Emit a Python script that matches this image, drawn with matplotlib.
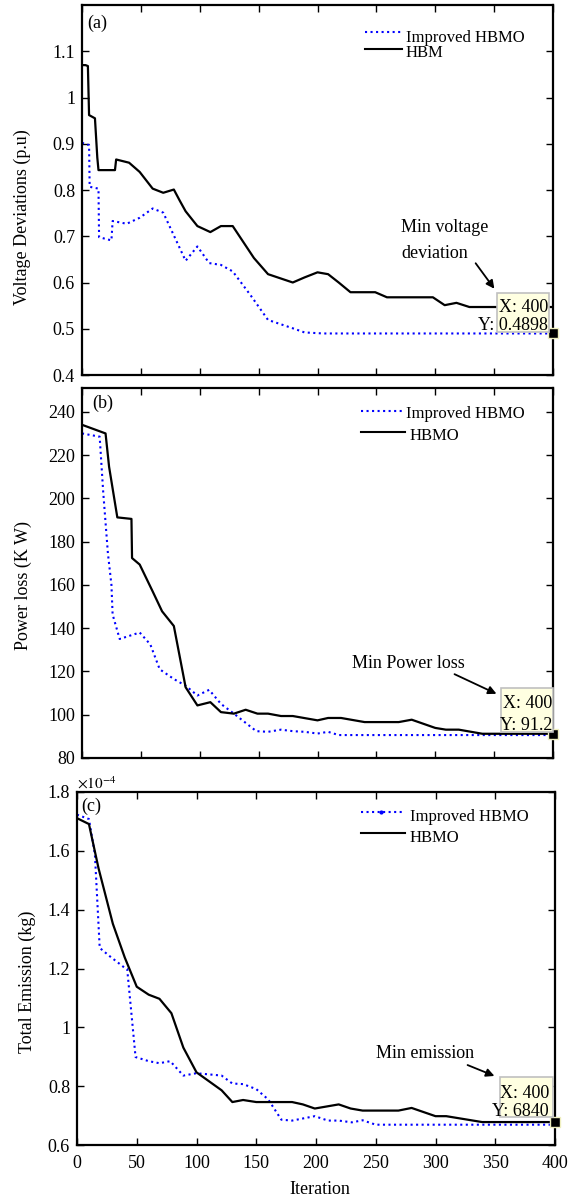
import matplotlib
matplotlib.use("Agg")
import matplotlib.pyplot as plt
from matplotlib.lines import Line2D
from matplotlib.patches import Rectangle, FancyArrowPatch

plt.rcParams['font.family'] = ['Liberation Serif', 'DejaVu Serif']
plt.rcParams['mathtext.fontset'] = 'stix'

# ---------------- data ----------------
# (a) voltage deviation (p.u)
va_hbm_x = [0, 3, 5, 6, 11, 13, 14, 28, 29, 40, 49, 60, 69, 78, 83, 88, 98, 109, 118, 128,
            146, 158, 179, 189, 200, 209, 218, 228, 249, 259, 298, 308, 318, 329, 349, 400]
va_hbm_y = [1.070, 1.070, 1.068, 0.962, 0.955, 0.870, 0.843, 0.843, 0.866, 0.859, 0.839, 0.803,
            0.794, 0.801, 0.777, 0.754, 0.722, 0.709, 0.722, 0.722, 0.653, 0.618, 0.600, 0.611,
            0.622, 0.618, 0.600, 0.579, 0.579, 0.568, 0.568, 0.551, 0.556, 0.547, 0.547, 0.547]
va_imp_x = [0, 6, 6.5, 10, 14, 14.5, 25, 26, 38, 49, 60, 69, 88, 98, 108, 118, 128, 143, 158,
            179, 189, 205, 400]
va_imp_y = [0.902, 0.897, 0.807, 0.805, 0.803, 0.698, 0.691, 0.733, 0.727, 0.740, 0.760, 0.751,
            0.647, 0.678, 0.642, 0.638, 0.624, 0.573, 0.519, 0.501, 0.492, 0.4898, 0.4898]

# (b) power loss (KW)
pb_hbmo_x = [0, 20, 23, 30, 42, 42.5, 49, 60, 68, 78, 88, 98, 109, 118, 129, 139, 149, 158,
             169, 179, 200, 209, 220, 240, 269, 280, 300, 309, 320, 340, 400]
pb_hbmo_y = [234, 230, 214.6, 191.2, 190.5, 172.4, 169.4, 157, 147.8, 141, 112.7, 104.3, 105.8,
             101.2, 100.5, 102.3, 100.5, 100.5, 99.4, 99.4, 97.4, 98.5, 98.5, 96.6, 96.6, 97.7,
             93.9, 93.1, 93.1, 91.2, 91.2]
pb_imp_x = [0, 15, 18, 22, 25, 26, 32, 49, 58, 66, 78, 88, 98, 108, 118, 129, 148, 158, 169,
            179, 189, 200, 209, 218, 400]
pb_imp_y = [230, 228.5, 203, 174.6, 160, 146.3, 135, 138, 132.5, 121, 116.5, 113.4, 108.9,
            111.5, 105, 100.5, 92.4, 92.1, 93.1, 92.4, 92.1, 91.3, 92.1, 90.6, 90.6]

# (c) total emission (kg, in units of 1e-4)
ec_hbmo_x = [0, 10, 18, 30, 40, 50, 60, 69, 79, 89, 100, 110, 121, 130, 139, 150, 180, 189,
             199, 219, 229, 239, 269, 280, 300, 309, 339, 400]
ec_hbmo_y = [1.711, 1.691, 1.541, 1.352, 1.237, 1.138, 1.111, 1.097, 1.048, 0.931, 0.847,
             0.818, 0.786, 0.746, 0.753, 0.746, 0.746, 0.738, 0.724, 0.738, 0.724, 0.717,
             0.717, 0.726, 0.698, 0.698, 0.678, 0.678]
ec_imp_x = [0, 10, 15, 19, 27, 40, 42, 49, 60, 69, 78, 89, 100, 121, 130, 139, 150, 160, 171,
            180, 199, 210, 219, 230, 239, 250, 400]
ec_imp_y = [1.723, 1.708, 1.587, 1.270, 1.243, 1.202, 1.198, 0.899, 0.885, 0.878, 0.885,
            0.836, 0.844, 0.836, 0.809, 0.807, 0.790, 0.755, 0.686, 0.683, 0.698, 0.683,
            0.683, 0.677, 0.684, 0.669, 0.669]

x_ticks = [0, 50, 100, 150, 200, 250, 300, 350, 400]
a_ticks = [0.4, 0.5, 0.6, 0.7, 0.8, 0.9, 1.0, 1.1]
a_ticklabels = ['0.4', '0.5', '0.6', '0.7', '0.8', '0.9', '1', '1.1']
b_ticks = [80, 100, 120, 140, 160, 180, 200, 220, 240]
c_ticks = [0.6, 0.8, 1.0, 1.2, 1.4, 1.6, 1.8]
c_ticklabels = ['0.6', '0.8', '1', '1.2', '1.4', '1.6', '1.8']

# ---------------- figure ----------------
W, H = 569, 1198
fig = plt.figure(figsize=(W / 100, H / 100), dpi=100)


def fx(x):
    return x / W


def fy(y):
    return 1 - y / H


def axes_px(l, t, r, b):
    return fig.add_axes([fx(l), fy(b), (r - l) / W, (b - t) / H])


ax_a = axes_px(82, 5, 553, 375)
ax_b = axes_px(82, 388, 553, 758)
ax_c = axes_px(77, 792, 555, 1145)

FS = 13
BLUE = '#0000ff'

for ax in (ax_a, ax_b, ax_c):
    ax.set_xlim(0, 400)
    ax.set_xticks(x_ticks)
    ax.tick_params(direction='in', length=5, width=1.0, top=True, right=True,
                   labelsize=FS, pad=5)
    for s in ax.spines.values():
        s.set_linewidth(1.6)

ax_a.plot(va_imp_x, va_imp_y, ls=':', color=BLUE, lw=1.5)
ax_a.plot(va_hbm_x, va_hbm_y, ls='-', color='k', lw=1.6)
ax_a.set_ylim(0.4, 1.2)
ax_a.set_yticks(a_ticks)
ax_a.set_yticklabels(a_ticklabels)
ax_a.set_xticklabels([])

ax_b.plot(pb_imp_x, pb_imp_y, ls=':', color=BLUE, lw=1.5)
ax_b.plot(pb_hbmo_x, pb_hbmo_y, ls='-', color='k', lw=1.6)
ax_b.set_ylim(80, 251)
ax_b.set_yticks(b_ticks)
ax_b.set_xticklabels([])

ax_c.plot(ec_imp_x, ec_imp_y, ls=':', color=BLUE, lw=1.5)
ax_c.plot(ec_hbmo_x, ec_hbmo_y, ls='-', color='k', lw=1.6)
ax_c.set_ylim(0.6, 1.8)
ax_c.set_yticks(c_ticks)
ax_c.set_yticklabels(c_ticklabels)
ax_c.tick_params(axis='x', pad=7)

# data tip markers
ax_a.plot([va_imp_x[-1]], [va_imp_y[-1]], 's', ms=7, mfc='k', mec='#f0f0c0', mew=1, clip_on=False, zorder=5)
ax_b.plot([pb_hbmo_x[-1]], [pb_hbmo_y[-1]], 's', ms=7, mfc='k', mec='#f0f0c0', mew=1, clip_on=False, zorder=5)
ax_c.plot([ec_hbmo_x[-1]], [ec_hbmo_y[-1]], 's', ms=7, mfc='k', mec='#f0f0c0', mew=1, clip_on=False, zorder=5)

# y labels
fig.text(fx(22), fy(217), 'Voltage Deviations (p.u)', rotation=90, ha='center', va='center', fontsize=FS)
fig.text(fx(23), fy(585), 'Power loss (K W)', rotation=90, ha='center', va='center', fontsize=FS)
fig.text(fx(27), fy(982), 'Total Emission (kg)', rotation=90, ha='center', va='center', fontsize=FS)
fig.text(fx(320), fy(1190), 'Iteration', ha='center', va='center', fontsize=FS)

# panel labels
fig.text(fx(87), fy(23), '(a)', ha='left', va='center', fontsize=FS)
fig.text(fx(92), fy(403), '(b)', ha='left', va='center', fontsize=FS)
fig.text(fx(81), fy(806), '(c)', ha='left', va='center', fontsize=FS)
fig.text(fx(77), fy(783), r'$\times10^{-4}$', ha='left', va='center', fontsize=11)


# legends (manual, to mimic original placement)
def legend_line(x1, x2, y, **kw):
    fig.add_artist(Line2D([fx(x1), fx(x2)], [fy(y), fy(y)], transform=fig.transFigure, **kw))


LFS = 12
legend_line(365, 402, 32, color=BLUE, ls=':', lw=1.5)
legend_line(365, 402, 49, color='k', ls='-', lw=1.5)
fig.text(fx(406), fy(38), 'Improved HBMO', ha='left', va='center', fontsize=LFS)
fig.text(fx(406), fy(53), 'HBM', ha='left', va='center', fontsize=LFS)

legend_line(361, 405, 411, color=BLUE, ls=':', lw=1.5)
legend_line(361, 405, 432, color='k', ls='-', lw=1.5)
fig.text(fx(406), fy(414), 'Improved HBMO', ha='left', va='center', fontsize=LFS)
fig.text(fx(410), fy(436), 'HBMO', ha='left', va='center', fontsize=LFS)

legend_line(361, 405, 812, color=BLUE, ls=':', lw=1.5)
fig.add_artist(Line2D([fx(381)], [fy(812)], transform=fig.transFigure, marker='.', ms=4, color=BLUE))
legend_line(361, 405, 833, color='k', ls='-', lw=1.5)
fig.text(fx(410), fy(817), 'Improved HBMO', ha='left', va='center', fontsize=LFS)
fig.text(fx(410), fy(838), 'HBMO', ha='left', va='center', fontsize=LFS)


# data tips
def datatip(l, t, r, b, xt, yx, yy, ytxt, xr):
    fig.add_artist(Rectangle((fx(l), fy(b)), (r - l) / W, (b - t) / H, transform=fig.transFigure,
                             facecolor='#ffffe1', edgecolor='#c0c0c0', lw=1.2, zorder=3))
    fig.text(fx(xr), fy(yx), xt, ha='right', va='center', fontsize=FS, zorder=4)
    fig.text(fx(xr), fy(yy), ytxt, ha='right', va='center', fontsize=FS, zorder=4)


datatip(497, 293, 549, 332, 'X: 400', 307, 326, 'Y: 0.4898', 548)
datatip(501, 688, 553, 732, 'X: 400', 703, 725, 'Y: 91.2', 552)
datatip(500, 1077, 553, 1117, 'X: 400', 1093, 1112, 'Y: 6840', 549)


def arrow(x1, y1, x2, y2):
    fig.add_artist(FancyArrowPatch(
        (fx(x1), fy(y1)), (fx(x2), fy(y2)), transform=fig.transFigure,
        arrowstyle='-|>', mutation_scale=12, lw=1.3, color='k', zorder=4))


fig.text(fx(401), fy(228), 'Min voltage', ha='left', va='center', fontsize=FS)
fig.text(fx(401), fy(253), 'deviation', ha='left', va='center', fontsize=FS)
arrow(474, 261, 496, 291)

fig.text(fx(352), fy(663), 'Min Power loss', ha='left', va='center', fontsize=FS)
arrow(452, 673, 499, 695)

fig.text(fx(376), fy(1053), 'Min emission', ha='left', va='center', fontsize=FS)
arrow(465, 1064, 497, 1077)

fig.savefig('out.png', dpi=100)
